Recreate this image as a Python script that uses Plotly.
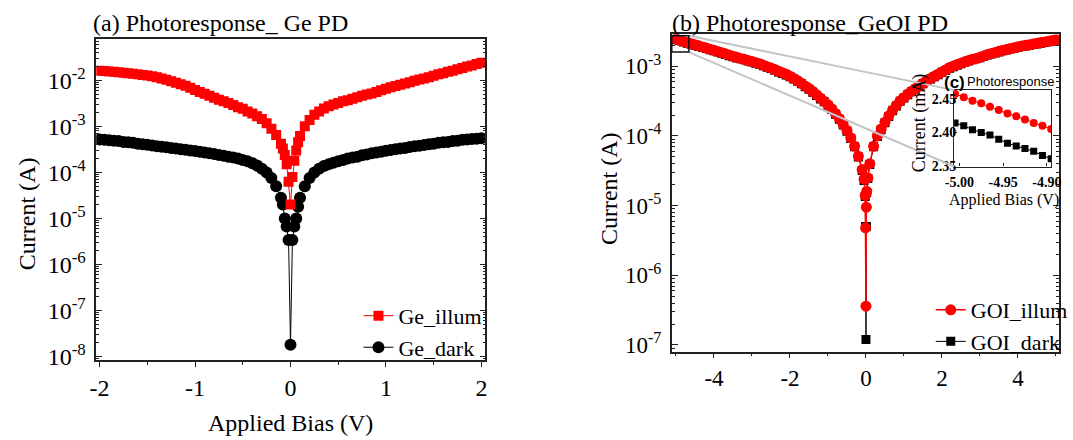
import plotly.graph_objects as go
import math

# ---------------- data ----------------
# (a) Ge PD  -- bias in V, current in A
ge_bias = [-2.00, -1.95, -1.90, -1.85, -1.80, -1.75, -1.70, -1.65, -1.60, -1.55,
           -1.50, -1.45, -1.40, -1.35, -1.30, -1.25, -1.20, -1.15, -1.10, -1.05,
           -1.00, -0.95, -0.90, -0.85, -0.80, -0.75, -0.70, -0.65, -0.60, -0.55,
           -0.50, -0.45, -0.40, -0.35, -0.30, -0.25, -0.20, -0.15, -0.10,
           -0.08, -0.06, -0.04, -0.02, 0.00, 0.02, 0.04, 0.06, 0.08,
           0.10, 0.15, 0.20, 0.25, 0.30, 0.35, 0.40, 0.45, 0.50, 0.55,
           0.60, 0.65, 0.70, 0.75, 0.80, 0.85, 0.90, 0.95, 1.00, 1.05,
           1.10, 1.15, 1.20, 1.25, 1.30, 1.35, 1.40, 1.45, 1.50, 1.55,
           1.60, 1.65, 1.70, 1.75, 1.80, 1.85, 1.90, 1.95, 2.00]
ge_illum = [1.62e-2, 1.59e-2, 1.56e-2, 1.53e-2, 1.50e-2, 1.47e-2, 1.43e-2, 1.39e-2, 1.35e-2, 1.31e-2,
            1.27e-2, 1.22e-2, 1.16e-2, 1.10e-2, 1.03e-2, 9.6e-3, 8.9e-3, 8.2e-3, 7.6e-3, 6.9e-3,
            6.2e-3, 5.6e-3, 5.1e-3, 4.6e-3, 4.2e-3, 3.8e-3, 3.5e-3, 3.2e-3, 2.9e-3, 2.6e-3,
            2.4e-3, 2.1e-3, 1.9e-3, 1.66e-3, 1.45e-3, 1.17e-3, 8.9e-4, 6.5e-4, 4.2e-4,
            3.3e-4, 2.4e-4, 1.5e-4, 6.3e-5, 2.0e-5, 7.9e-5, 1.8e-4, 3.0e-4, 4.5e-4,
            6.2e-4, 1.0e-3, 1.38e-3, 1.78e-3, 2.1e-3, 2.45e-3, 2.75e-3, 3.0e-3, 3.2e-3, 3.5e-3,
            3.7e-3, 4.0e-3, 4.3e-3, 4.6e-3, 4.9e-3, 5.2e-3, 5.6e-3, 6.1e-3, 6.6e-3, 7.1e-3,
            7.5e-3, 8.0e-3, 8.5e-3, 9.1e-3, 9.8e-3, 1.04e-2, 1.10e-2, 1.17e-2, 1.26e-2, 1.35e-2,
            1.43e-2, 1.53e-2, 1.62e-2, 1.74e-2, 1.86e-2, 2.0e-2, 2.1e-2, 2.26e-2, 2.4e-2]
ge_dark = [5.2e-4, 5.1e-4, 5.0e-4, 4.9e-4, 4.8e-4, 4.6e-4, 4.5e-4, 4.4e-4, 4.2e-4, 4.1e-4,
           4.0e-4, 3.85e-4, 3.7e-4, 3.6e-4, 3.5e-4, 3.4e-4, 3.3e-4, 3.2e-4, 3.1e-4, 3.0e-4,
           2.9e-4, 2.8e-4, 2.7e-4, 2.6e-4, 2.5e-4, 2.4e-4, 2.3e-4, 2.2e-4, 2.1e-4, 2.0e-4,
           1.86e-4, 1.74e-4, 1.58e-4, 1.41e-4, 1.2e-4, 1.0e-4, 7.6e-5, 5.0e-5, 2.8e-5,
           2.0e-5, 1.0e-5, 6.7e-6, 3.4e-6, 1.8e-8, 3.4e-6, 6.7e-6, 1.0e-5, 1.8e-5,
           2.8e-5, 5.0e-5, 7.6e-5, 1.0e-4, 1.2e-4, 1.38e-4, 1.5e-4, 1.62e-4, 1.74e-4, 1.86e-4,
           2.0e-4, 2.1e-4, 2.2e-4, 2.35e-4, 2.45e-4, 2.6e-4, 2.7e-4, 2.8e-4, 2.95e-4, 3.05e-4,
           3.2e-4, 3.3e-4, 3.4e-4, 3.55e-4, 3.7e-4, 3.8e-4, 3.95e-4, 4.1e-4, 4.2e-4, 4.4e-4,
           4.5e-4, 4.6e-4, 4.8e-4, 4.9e-4, 5.1e-4, 5.2e-4, 5.3e-4, 5.4e-4, 5.5e-4]

# (b) GeOI PD -- bias in V, current in A
goi_bias = [-5.0, -4.9, -4.8, -4.7, -4.6, -4.5, -4.4, -4.3, -4.2, -4.1,
            -4.0, -3.9, -3.8, -3.7, -3.6, -3.5, -3.4, -3.3, -3.2, -3.1,
            -3.0, -2.9, -2.8, -2.7, -2.6, -2.5, -2.4, -2.3, -2.2, -2.1,
            -2.0, -1.9, -1.8, -1.7, -1.6, -1.5, -1.4, -1.3, -1.2, -1.1, -1.0,
            -0.9, -0.8, -0.7, -0.6, -0.5, -0.4, -0.3, -0.2, -0.1,
            -0.05, -0.02, -0.01, 0.0, 0.01, 0.02, 0.05,
            0.1, 0.2, 0.3, 0.4, 0.5, 0.6, 0.7, 0.8, 0.9,
            1.0, 1.1, 1.2, 1.3, 1.4, 1.5, 1.6, 1.7, 1.8, 1.9,
            2.0, 2.1, 2.2, 2.3, 2.4, 2.5, 2.6, 2.7, 2.8, 2.9,
            3.0, 3.1, 3.2, 3.3, 3.4, 3.5, 3.6, 3.7, 3.8, 3.9,
            4.0, 4.1, 4.2, 4.3, 4.4, 4.5, 4.6, 4.7, 4.8, 4.9, 5.0]
goi_illum = [2.45e-3, 2.36e-3, 2.27e-3, 2.19e-3, 2.11e-3, 2.04e-3, 1.97e-3, 1.90e-3, 1.83e-3, 1.76e-3,
             1.70e-3, 1.63e-3, 1.57e-3, 1.51e-3, 1.45e-3, 1.40e-3, 1.35e-3, 1.30e-3, 1.26e-3, 1.21e-3,
             1.17e-3, 1.13e-3, 1.09e-3, 1.04e-3, 9.9e-4, 9.5e-4, 9.0e-4, 8.5e-4, 8.1e-4, 7.7e-4,
             7.2e-4, 6.7e-4, 6.2e-4, 5.7e-4, 5.2e-4, 4.8e-4, 4.35e-4, 3.9e-4, 3.5e-4, 3.15e-4, 2.8e-4,
             2.45e-4, 2.1e-4, 1.78e-4, 1.47e-4, 1.2e-4, 9.4e-5, 7.1e-5, 5.1e-5, 3.3e-5,
             2.4e-5, 1.4e-5, 4.8e-6, 3.6e-7, 9.5e-6, 1.6e-5, 2.5e-5,
             4.0e-5, 7.1e-5, 1.0e-4, 1.26e-4, 1.58e-4, 1.95e-4, 2.35e-4, 2.75e-4, 3.2e-4,
             3.55e-4, 4.0e-4, 4.4e-4, 4.8e-4, 5.2e-4, 5.7e-4, 6.2e-4, 6.7e-4, 7.2e-4, 7.7e-4,
             8.3e-4, 8.9e-4, 9.6e-4, 1.01e-3, 1.06e-3, 1.11e-3, 1.16e-3, 1.21e-3, 1.26e-3, 1.30e-3,
             1.35e-3, 1.41e-3, 1.48e-3, 1.53e-3, 1.58e-3, 1.64e-3, 1.70e-3, 1.75e-3, 1.80e-3, 1.85e-3,
             1.91e-3, 1.95e-3, 2.0e-3, 2.04e-3, 2.09e-3, 2.14e-3, 2.19e-3, 2.24e-3, 2.29e-3, 2.34e-3, 2.40e-3]
goi_dark = [2.41e-3, 2.32e-3, 2.23e-3, 2.15e-3, 2.07e-3, 2.00e-3, 1.93e-3, 1.86e-3, 1.80e-3, 1.73e-3,
            1.67e-3, 1.60e-3, 1.54e-3, 1.48e-3, 1.42e-3, 1.37e-3, 1.32e-3, 1.28e-3, 1.24e-3, 1.19e-3,
            1.15e-3, 1.11e-3, 1.07e-3, 1.02e-3, 9.7e-4, 9.3e-4, 8.8e-4, 8.3e-4, 7.9e-4, 7.5e-4,
            7.1e-4, 6.6e-4, 6.1e-4, 5.6e-4, 5.1e-4, 4.7e-4, 4.25e-4, 3.8e-4, 3.4e-4, 3.1e-4, 2.75e-4,
            2.4e-4, 2.05e-4, 1.74e-4, 1.44e-4, 1.17e-4, 9.2e-5, 7.0e-5, 5.0e-5, 3.2e-5,
            2.3e-5, 1.35e-5, 5.0e-6, 1.2e-7, 5.0e-6, 1.55e-5, 2.45e-5,
            3.9e-5, 7.0e-5, 9.8e-5, 1.23e-4, 1.55e-4, 1.91e-4, 2.3e-4, 2.7e-4, 3.15e-4,
            3.5e-4, 3.9e-4, 4.3e-4, 4.7e-4, 5.1e-4, 5.6e-4, 6.1e-4, 6.6e-4, 7.1e-4, 7.6e-4,
            8.2e-4, 8.7e-4, 9.4e-4, 9.9e-4, 1.04e-3, 1.09e-3, 1.14e-3, 1.19e-3, 1.24e-3, 1.28e-3,
            1.33e-3, 1.39e-3, 1.45e-3, 1.50e-3, 1.55e-3, 1.61e-3, 1.67e-3, 1.72e-3, 1.77e-3, 1.82e-3,
            1.88e-3, 1.92e-3, 1.96e-3, 2.0e-3, 2.05e-3, 2.10e-3, 2.15e-3, 2.20e-3, 2.25e-3, 2.30e-3, 2.36e-3]

# (c) inset -- bias in V, current in mA
inset_bias = [-5.005, -4.995, -4.985, -4.975, -4.965, -4.955,
              -4.945, -4.935, -4.925, -4.915, -4.905, -4.895]
inset_illum = [2.457, 2.452, 2.447, 2.443, 2.438, 2.433,
               2.428, 2.424, 2.419, 2.414, 2.410, 2.405]
inset_dark = [2.414, 2.410, 2.404, 2.400, 2.396, 2.390,
              2.384, 2.380, 2.376, 2.372, 2.366, 2.361]

# tick labels
ge_x_ticks = [-2, -1, 0, 1, 2]
goi_x_ticks = [-4, -2, 0, 2, 4]
ge_y_decades = [-8, -7, -6, -5, -4, -3, -2]
goi_y_decades = [-7, -6, -5, -4, -3]
inset_x_ticks = [-5.00, -4.95, -4.90]
inset_y_ticks = [2.35, 2.40, 2.45]

# zoom box on panel (b) (data units)
box_bias = [-5.11, -4.66]
box_current = [1.6e-3, 2.75e-3]

# ---------------- layout geometry ----------------
W, H = 1073, 440
def px(x):
    return x / W
def py(y):
    return 1 - y / H

L_DX = [px(89), px(486)]
L_DY = [py(368), py(40)]
R_DX = [px(676), px(1071)]
R_DY = [py(359), py(35)]
I_DX = [px(964), px(1063)]
I_DY = [py(170), py(92)]

L_XR = [-2.035, 2.043]
L_YR = [-8.085, -1.106]
R_XR = [-5.11, 5.08]
R_YR = [-7.096, -2.54]
I_XR = [-5.006, -4.895]
I_YR = [2.3495, 2.4626]

SERIF = "Liberation Serif"
SANS = "Liberation Sans"
RED = "#ff0000"
BLACK = "#000000"

fig = go.Figure()

# Panel (a)
fig.add_trace(go.Scatter(x=ge_bias, y=ge_dark, name="Ge_dark", mode="lines+markers",
                         line=dict(color=BLACK, width=1),
                         marker=dict(symbol="circle", size=12, color=BLACK),
                         xaxis="x", yaxis="y", legend="legend"))
fig.add_trace(go.Scatter(x=ge_bias, y=ge_illum, name="Ge_illum", mode="lines+markers",
                         line=dict(color=RED, width=1),
                         marker=dict(symbol="square", size=10, color=RED),
                         xaxis="x", yaxis="y", legend="legend"))
# Panel (b)
fig.add_trace(go.Scatter(x=goi_bias, y=goi_dark, name="GOI_dark", mode="lines+markers",
                         line=dict(color=BLACK, width=1),
                         marker=dict(symbol="square", size=9, color=BLACK),
                         xaxis="x2", yaxis="y2", legend="legend2"))
fig.add_trace(go.Scatter(x=goi_bias, y=goi_illum, name="GOI_illum", mode="lines+markers",
                         line=dict(color=RED, width=1.5),
                         marker=dict(symbol="circle", size=11, color=RED),
                         xaxis="x2", yaxis="y2", legend="legend2"))
# Inset (c)
fig.add_trace(go.Scatter(x=inset_bias, y=inset_dark, mode="lines+markers", showlegend=False,
                         line=dict(color=BLACK, width=1),
                         marker=dict(symbol="square", size=7, color=BLACK),
                         xaxis="x3", yaxis="y3"))
fig.add_trace(go.Scatter(x=inset_bias, y=inset_illum, mode="lines+markers", showlegend=False,
                         line=dict(color=RED, width=1),
                         marker=dict(symbol="circle", size=8, color=RED),
                         xaxis="x3", yaxis="y3"))


def minor_log(decades):
    vals = []
    for d in range(decades[0] - 1, decades[-1] + 1):
        for k in range(2, 10):
            vals.append(k * 10 ** d)
    return vals


def log_yaxis(domain, rng, decades, anchor, fsize):
    return dict(type="log", domain=domain, range=rng, anchor=anchor,
                tickmode="array", tickvals=[10 ** d for d in decades],
                ticktext=["10<sup>%d</sup>" % d for d in decades],
                ticks="inside", ticklen=6, tickwidth=1.2, tickcolor="#222",
                minor=dict(tickmode="array", tickvals=minor_log(decades),
                           ticks="inside", ticklen=3, tickwidth=1, tickcolor="#222",
                           showgrid=False),
                showline=True, linecolor="#222", linewidth=1.5, mirror="allticks",
                showgrid=False, zeroline=False, ticklabelstandoff=4,
                tickfont=dict(family=SERIF, size=fsize, color="black"))


def lin_xaxis(domain, rng, tickvals, minor_dtick, anchor, fsize):
    return dict(domain=domain, range=rng, anchor=anchor,
                tickmode="array", tickvals=tickvals,
                ticktext=[str(v) for v in tickvals],
                ticks="outside", ticklen=5, tickwidth=1.2, tickcolor="#222",
                minor=dict(dtick=minor_dtick, tick0=0, ticks="outside", ticklen=3,
                           tickwidth=1, tickcolor="#222", showgrid=False),
                showline=True, linecolor="#222", linewidth=1.5, mirror=True,
                showgrid=False, zeroline=False,
                tickfont=dict(family=SERIF, size=fsize, color="black"))


fig.update_layout(
    width=W, height=H, margin=dict(l=0, r=0, t=0, b=0),
    paper_bgcolor="white", plot_bgcolor="white", showlegend=True,
    xaxis=lin_xaxis(L_DX, L_XR, ge_x_ticks, 0.5, "y", 24),
    yaxis=log_yaxis(L_DY, L_YR, ge_y_decades, "x", 24),
    xaxis2=lin_xaxis(R_DX, R_XR, goi_x_ticks, 1, "y2", 23),
    yaxis2=log_yaxis(R_DY, R_YR, goi_y_decades, "x2", 23),
    xaxis3=dict(domain=I_DX, range=I_XR, anchor="y3",
                tickmode="array", tickvals=inset_x_ticks,
                ticktext=["%.2f" % v for v in inset_x_ticks],
                ticks="inside", ticklen=3, tickcolor="#222",
                showline=True, linecolor="#222", linewidth=1.2, mirror=True,
                showgrid=False, zeroline=False, ticklabelstandoff=3,
                tickfont=dict(family=SERIF, size=14, color="black", weight="bold")),
    yaxis3=dict(domain=I_DY, range=I_YR, anchor="x3",
                tickmode="array", tickvals=inset_y_ticks,
                ticktext=["%.2f" % v for v in inset_y_ticks],
                ticks="inside", ticklen=3, tickcolor="#222",
                showline=True, linecolor="#222", linewidth=1.2, mirror=True,
                showgrid=False, zeroline=False, ticklabelstandoff=-6,
                tickfont=dict(family=SERIF, size=14, color="black", weight="bold")),
    legend=dict(x=px(488), xanchor="right", y=py(301), yanchor="top",
                traceorder="reversed", bgcolor="rgba(0,0,0,0)", borderwidth=0,
                font=dict(family=SERIF, size=22, color="black"), tracegroupgap=0),
    legend2=dict(x=px(1085), xanchor="right", y=py(295), yanchor="top",
                 traceorder="reversed", bgcolor="rgba(0,0,0,0)", borderwidth=0,
                 font=dict(family=SERIF, size=22, color="black"), tracegroupgap=0),
)


def ann(text, x, y, size, family=SERIF, xanchor="center", angle=0, weight="normal"):
    fig.add_annotation(text=text, x=px(x), y=py(y), xref="paper", yref="paper",
                       xanchor=xanchor, yanchor="middle", showarrow=False, textangle=angle,
                       font=dict(family=family, size=size, color="black", weight=weight))


ann("(a) Photoresponse_ Ge PD", 84, 23, 24, xanchor="left")
ann("(b) Photoresponse_GeOI PD", 674, 23, 24, xanchor="left")
ann("Current (A)", 18, 218, 24, angle=-90)
ann("Current (A)", 612, 193, 24, angle=-90)
ann("Applied Bias (V)", 287, 432, 24)
ann("Current (mA)", 929, 126, 18, angle=-90)
ann("Applied Bias (V)", 1015, 204, 16)
ann("(c)", 952, 84, 17, family=SANS, xanchor="left", weight="bold")
ann("Photoresponse", 975, 83, 13, family=SANS, xanchor="left")


# zoom box and connector lines on panel (b), mapped from data to paper
def bx(v):
    return R_DX[0] + (v - R_XR[0]) / (R_XR[1] - R_XR[0]) * (R_DX[1] - R_DX[0])


def by(i):
    return R_DY[0] + (math.log10(i) - R_YR[0]) / (R_YR[1] - R_YR[0]) * (R_DY[1] - R_DY[0])


bx0, bx1 = bx(box_bias[0]), bx(box_bias[1])
by0, by1 = by(box_current[0]), by(box_current[1])
fig.add_shape(type="line", xref="paper", yref="paper", x0=bx1, y0=by1, x1=I_DX[0], y1=I_DY[1],
              line=dict(color="#c4c4c4", width=2), layer="above")
fig.add_shape(type="line", xref="paper", yref="paper", x0=bx1, y0=by0, x1=I_DX[0], y1=I_DY[0],
              line=dict(color="#c4c4c4", width=2), layer="above")
fig.add_shape(type="rect", xref="paper", yref="paper", x0=bx0, y0=by0, x1=bx1, y1=by1,
              line=dict(color="#111", width=1.5), fillcolor="rgba(0,0,0,0)", layer="above")

fig.write_html("out.html")
